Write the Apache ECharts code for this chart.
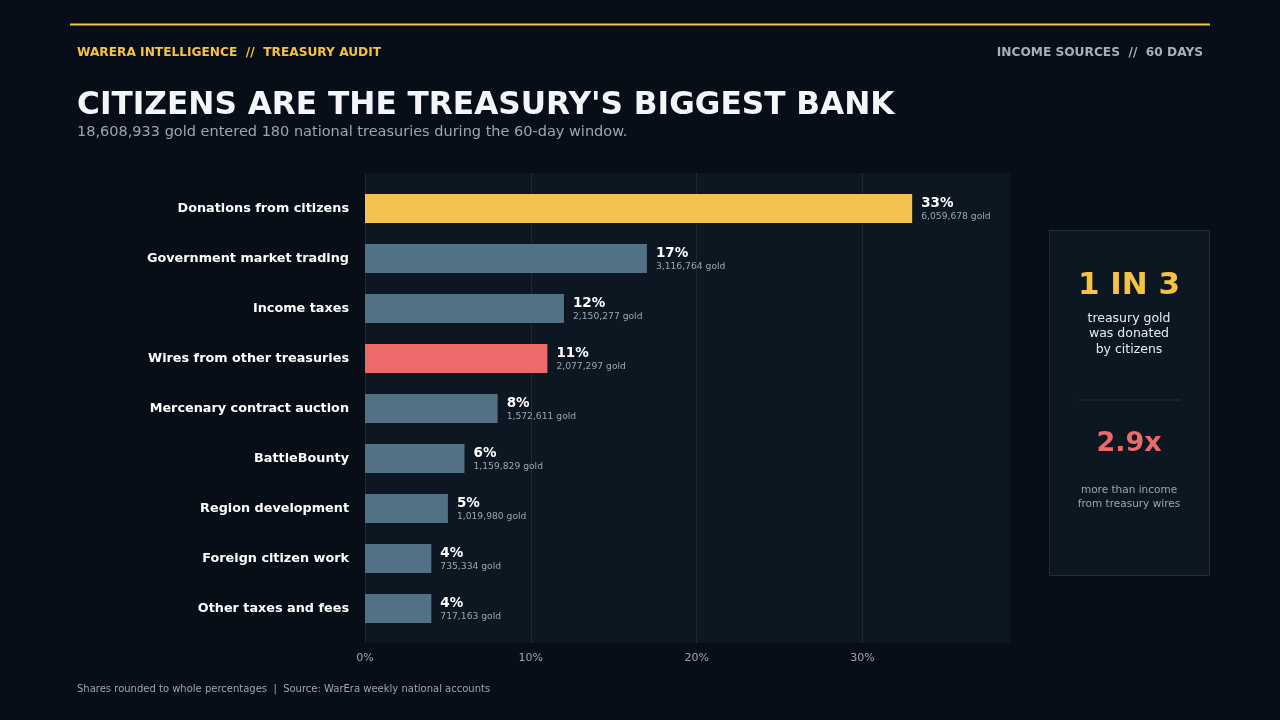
<!DOCTYPE html>
<html>
<head>
<meta charset="utf-8">
<script src="https://cdn.jsdelivr.net/npm/echarts@6/dist/echarts.min.js"></script>
<style>
html,body{margin:0;padding:0;background:#070e18;}
#c{width:1280px;height:720px;}
</style>
</head>
<body>
<div id="c"></div>
<script>
const categories = ["Donations from citizens","Government market trading","Income taxes","Wires from other treasuries","Mercenary contract auction","BattleBounty","Region development","Foreign citizen work","Other taxes and fees"];
const shares = [33,17,12,11,8,6,5,4,4];
const goldAmounts = [6059678,3116764,2150277,2077297,1572611,1159829,1019980,735334,717163];
const barColors = ["#f5c252","#537184","#537184","#ec6a6a","#537184","#537184","#537184","#537184","#537184"];
const tickValues = [0,10,20,30];
const axisMax = 38.9;

const fmt = n => n.toLocaleString('en-US');
const chart = echarts.init(document.getElementById('c'), null, {renderer:'canvas'});
const FONT = 'DejaVu Sans';

const data = shares.map((v,i)=>({value:v, itemStyle:{color:barColors[i]}}));

chart.setOption({
  backgroundColor:'#070e18',
  textStyle:{fontFamily:FONT},
  animation:false,
  grid:[
    {left:365, top:173, width:645, height:470, show:true, backgroundColor:'#0c1722', borderWidth:0},
    {left:365, top:183.5, width:645, height:450, show:false}
  ],
  xAxis:[{
    gridIndex:0, type:'value', min:0, max:axisMax, interval:10,
    axisLine:{show:false}, axisTick:{show:false},
    splitLine:{show:true, showMaxLine:false, lineStyle:{color:'#1c2a36', width:1}},
    axisLabel:{color:'#9aa6b2', fontSize:11, fontFamily:FONT, margin:10, showMaxLabel:false,
      formatter:v=> tickValues.includes(v) ? v+'%' : ''}
  },{
    gridIndex:1, type:'value', min:0, max:axisMax, show:false
  }],
  yAxis:[{
    gridIndex:0, type:'value', show:false
  },{
    gridIndex:1, type:'category', inverse:true, data:categories,
    axisLine:{show:false}, axisTick:{show:false},
    axisLabel:{color:'#ffffff', fontSize:12.8, fontWeight:'bold', fontFamily:FONT, margin:16, padding:[3,0,0,0]}
  }],
  series:[{
    type:'bar', xAxisIndex:1, yAxisIndex:1, data:data, barWidth:29,
    label:{show:true, position:'right', distance:9, offset:[0,1],
      formatter:p=>'{a|'+p.value+'%}\n{b|'+fmt(goldAmounts[p.dataIndex])+' gold}',
      rich:{
        a:{color:'#ffffff', fontSize:13.5, fontWeight:'bold', fontFamily:FONT, lineHeight:15},
        b:{color:'#9aa6b2', fontSize:9.2, fontFamily:FONT, lineHeight:12}
      }
    }
  }],
  graphic:[
    {type:'rect', shape:{x:70,y:23.5,width:1140,height:2}, style:{fill:'#f5c242'}},
    {type:'text', left:77, top:47, style:{text:'WARERA INTELLIGENCE  //  TREASURY AUDIT', fill:'#f5c242', font:'bold 12.2px "DejaVu Sans"'}},
    {type:'text', right:77, top:47, style:{text:'INCOME SOURCES  //  60 DAYS', fill:'#a5b1bd', font:'bold 12.2px "DejaVu Sans"', textAlign:'right'}},
    {type:'text', left:77, top:90.5, style:{text:"CITIZENS ARE THE TREASURY'S BIGGEST BANK", fill:'#f3f5f8', font:'bold 31.2px "DejaVu Sans"'}},
    {type:'text', left:77, top:124.5, style:{text:'18,608,933 gold entered 180 national treasuries during the 60-day window.', fill:'#9aa6b2', font:'14.5px "DejaVu Sans"'}},
    {type:'rect', shape:{x:1049.5,y:230.5,width:160,height:345}, style:{fill:'#0c1722', stroke:'#1f2e38', lineWidth:1}},
    {type:'text', x:1129, y:286, style:{text:'1 IN 3', fill:'#f5c242', font:'bold 31px "DejaVu Sans"', textAlign:'center', textVerticalAlign:'middle'}},
    {type:'text', x:1129, y:334, style:{text:'treasury gold\nwas donated\nby citizens', fill:'#e8ecf0', font:'12.5px "DejaVu Sans"', lineHeight:15.5, textAlign:'center', textVerticalAlign:'middle'}},
    {type:'rect', shape:{x:1078,y:399.5,width:103,height:1}, style:{fill:'#22313c'}},
    {type:'text', x:1129, y:444, style:{text:'2.9x', fill:'#ec6a6a', font:'bold 27px "DejaVu Sans"', textAlign:'center', textVerticalAlign:'middle'}},
    {type:'text', x:1129, y:497, style:{text:'more than income\nfrom treasury wires', fill:'#9aa6b2', font:'10.5px "DejaVu Sans"', lineHeight:14, textAlign:'center', textVerticalAlign:'middle'}},
    {type:'text', left:77, top:684.5, style:{text:'Shares rounded to whole percentages  |  Source: WarEra weekly national accounts', fill:'#9aa6b2', font:'10px "DejaVu Sans"'}}
  ]
});
</script>
</body>
</html>
